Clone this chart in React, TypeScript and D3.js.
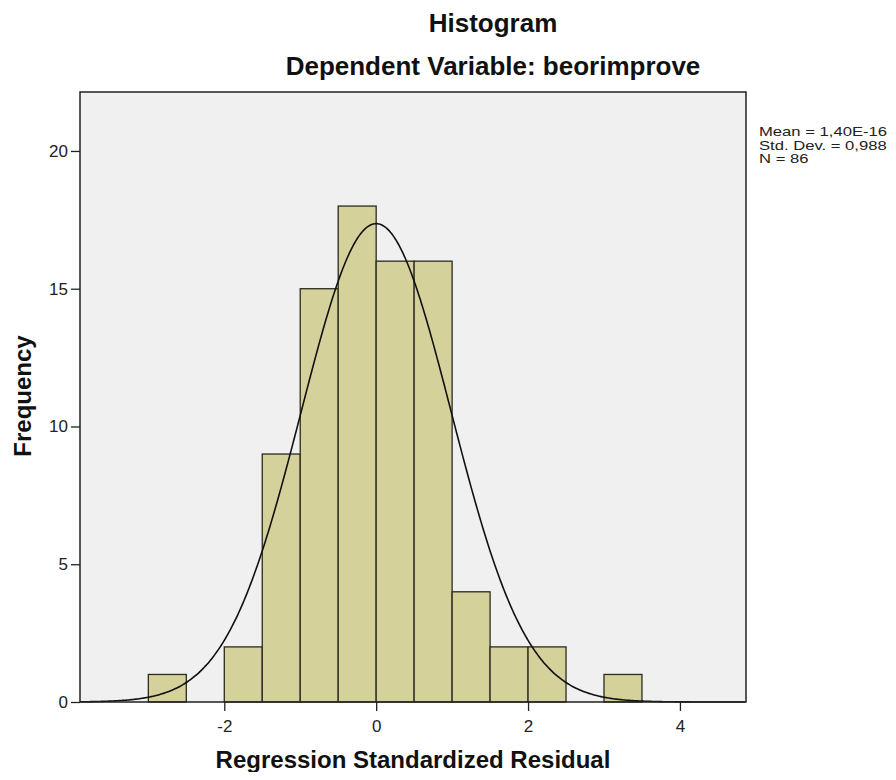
import React, { useEffect, useRef } from 'react';
import * as d3 from 'd3';

const binStarts = [-3, -2.5, -2, -1.5, -1, -0.5, 0, 0.5, 1, 1.5, 2, 2.5, 3];
const binCounts = [1, 0, 2, 9, 15, 18, 16, 16, 4, 2, 2, 0, 1];
const binWidth = 0.5;
const xTicks = [-2, 0, 2, 4];
const yTicks = [0, 5, 10, 15, 20];
const statLines = ['Mean = 1,40E-16', 'Std. Dev. = 0,988', 'N = 86'];
const mean = 0;
const sd = 0.988;
const n = 86;

const W = 896;
const H = 780;
const plot = { left: 80, right: 746, top: 92, bottom: 702 };

export default function App() {
  const svgRef = useRef<SVGSVGElement>(null);

  useEffect(() => {
    if (!svgRef.current) return;
    const svg = d3.select(svgRef.current);
    svg.selectAll('*').remove();

    const x = d3.scaleLinear().domain([-3.9, 4.87]).range([plot.left, plot.right]);
    const y = d3.scaleLinear().domain([0, 22.14]).range([plot.bottom, plot.top]);
    const font = 'Arial, "Liberation Sans", sans-serif';

    svg.append('rect').attr('width', W).attr('height', H).attr('fill', '#ffffff');

    svg.append('rect')
      .attr('x', plot.left).attr('y', plot.top)
      .attr('width', plot.right - plot.left).attr('height', plot.bottom - plot.top)
      .attr('fill', '#f0f0f0');

    const bins = binStarts.map((s, i) => ({ s, c: binCounts[i] })).filter(d => d.c > 0);
    svg.append('g').selectAll('rect').data(bins).enter().append('rect')
      .attr('x', d => x(d.s))
      .attr('y', d => y(d.c))
      .attr('width', d => x(d.s + binWidth) - x(d.s))
      .attr('height', d => y(0) - y(d.c))
      .attr('fill', '#d5d19b')
      .attr('stroke', '#2b2b1f')
      .attr('stroke-width', 1.3);

    // normal curve scaled to counts
    const pdf = (v: number) => Math.exp(-0.5 * ((v - mean) / sd) ** 2) / (sd * Math.sqrt(2 * Math.PI));
    const curvePts = d3.range(-3.9, 4.87, 0.02).map(v => [v, n * binWidth * pdf(v)] as [number, number]);
    svg.append('path')
      .attr('d', d3.line<[number, number]>().x(d => x(d[0])).y(d => y(d[1])).curve(d3.curveBasis)(curvePts))
      .attr('fill', 'none')
      .attr('stroke', '#111')
      .attr('stroke-width', 1.6);

    svg.append('rect')
      .attr('x', plot.left).attr('y', plot.top)
      .attr('width', plot.right - plot.left).attr('height', plot.bottom - plot.top)
      .attr('fill', 'none').attr('stroke', '#222').attr('stroke-width', 1.5);

    const xAxis = d3.axisBottom(x).tickValues(xTicks).tickSize(9).tickPadding(3).tickFormat(d => String(d));
    const gx = svg.append('g').attr('transform', `translate(0,${plot.bottom})`).call(xAxis);
    gx.select('.domain').remove();
    gx.selectAll('line').attr('stroke', '#222').attr('stroke-width', 1.3);
    gx.selectAll('text').attr('font-family', font).attr('font-size', 17).attr('fill', '#222').attr('dy', '1.05em');

    const yAxis = d3.axisLeft(y).tickValues(yTicks).tickSize(9).tickPadding(3).tickFormat(d => String(d));
    const gy = svg.append('g').attr('transform', `translate(${plot.left},0)`).call(yAxis);
    gy.select('.domain').remove();
    gy.selectAll('line').attr('stroke', '#222').attr('stroke-width', 1.3);
    gy.selectAll('text').attr('font-family', font).attr('font-size', 17).attr('fill', '#222');

    svg.append('text').attr('x', 493).attr('y', 32).attr('text-anchor', 'middle')
      .attr('font-family', font).attr('font-weight', 'bold').attr('font-size', 26).attr('fill', '#111')
      .text('Histogram');
    svg.append('text').attr('x', 493).attr('y', 75).attr('text-anchor', 'middle')
      .attr('font-family', font).attr('font-weight', 'bold').attr('font-size', 26).attr('fill', '#111')
      .text('Dependent Variable: beorimprove');
    svg.append('text').attr('x', 413).attr('y', 768).attr('text-anchor', 'middle')
      .attr('font-family', font).attr('font-weight', 'bold').attr('font-size', 24).attr('fill', '#111')
      .text('Regression Standardized Residual');
    svg.append('text').attr('transform', 'translate(31,396) rotate(-90)').attr('text-anchor', 'middle')
      .attr('font-family', font).attr('font-weight', 'bold').attr('font-size', 24).attr('fill', '#111')
      .text('Frequency');

    svg.append('g').attr('transform', 'translate(759,0) scale(1.28,1)')
      .selectAll('text').data(statLines).enter().append('text')
      .attr('x', 0).attr('y', (_, i) => 136.5 + i * 13.5)
      .attr('font-family', font).attr('font-size', 13).attr('fill', '#222')
      .text(d => d);
  }, []);

  return <svg ref={svgRef} width={W} height={H} style={{ display: 'block', margin: -8 }} />;
}
